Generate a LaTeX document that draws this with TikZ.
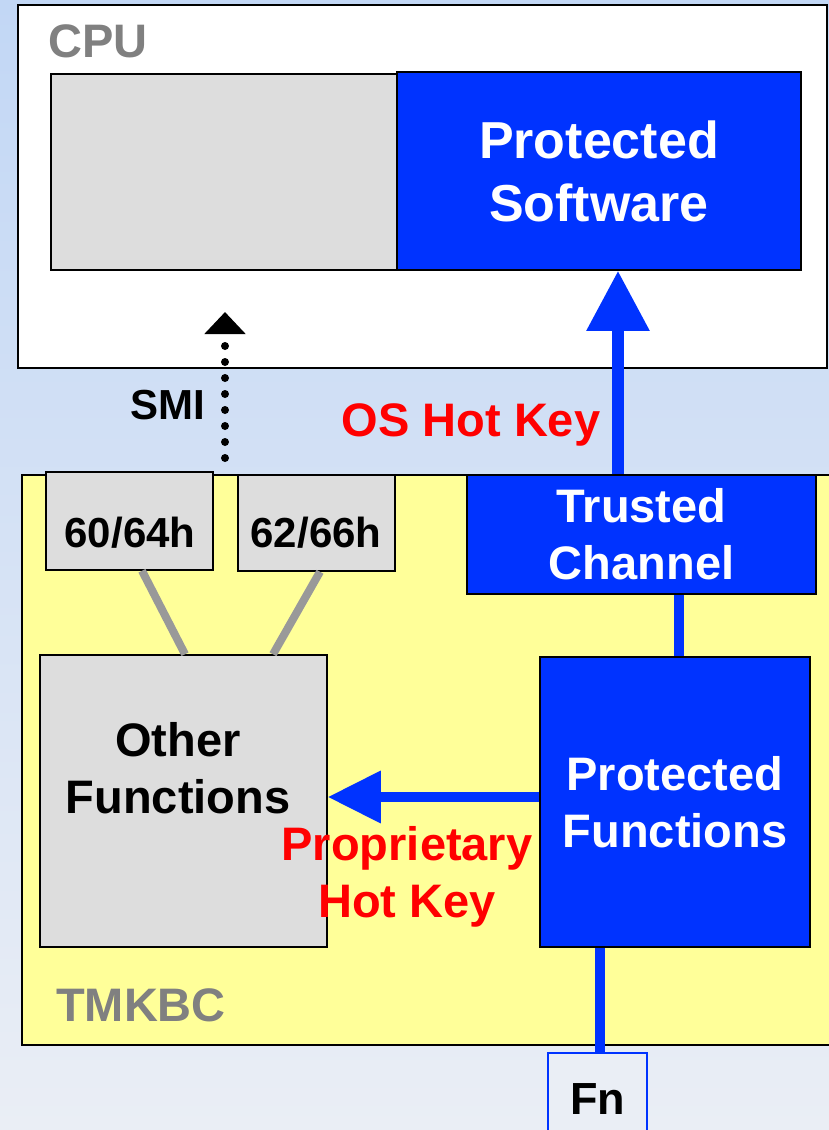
\documentclass[tikz,border=0pt]{standalone}
\usepackage{fontspec}
\setmainfont{Liberation Sans}
\usetikzlibrary{arrows.meta}

\definecolor{pblue}{HTML}{0033FF}
\definecolor{pyellow}{HTML}{FFFF99}
\definecolor{pgray}{HTML}{DDDDDD}
\definecolor{lblgray}{HTML}{808080}
\definecolor{linkgray}{HTML}{999999}
\definecolor{bgtop}{HTML}{C2D7F5}
\definecolor{bgbot}{HTML}{EAEEF5}

\tikzset{
  box/.style={draw=black, line width=1.5pt, inner sep=0pt},
  graybox/.style={box, fill=pgray},
  bluebox/.style={box, fill=pblue, text=white},
  txt/.style={font=\bfseries\fontsize{47}{57}\selectfont, align=center, inner sep=0pt},
  bigtxt/.style={font=\bfseries\fontsize{52}{63}\selectfont, align=center, inner sep=0pt},
  smalltxt/.style={font=\bfseries\fontsize{42}{50}\selectfont, align=center, inner sep=0pt},
  redtxt/.style={txt, text=red},
  graytxt/.style={txt, text=lblgray},
  glink/.style={draw=linkgray, line width=8pt},
  blink/.style={draw=pblue, line width=10pt},
}

\begin{document}
\begin{tikzpicture}[x=1pt, y=-1pt]
\useasboundingbox (0,0) rectangle (829,1130);
\shade[top color=bgtop, bottom color=bgbot] (0,0) rectangle (829,1130);

% CPU
\node[box, fill=white, minimum width=809pt, minimum height=363pt] (cpu) at (422.5,186.5) {};
\node[graytxt] (cputxt) at (98,41) {CPU};
\node[graybox, minimum width=347pt, minimum height=196pt] (cpugray) at (224.5,172) {};
\node[bluebox, bigtxt, minimum width=404pt, minimum height=198pt] (psw) at (599,171) {Protected\\Software};

% keyboard controller
\node[box, fill=pyellow, minimum width=818pt, minimum height=570pt] (kbc) at (431,760) {};
\node[graytxt] (kbctxt) at (141,1005) {TMKBC};

\node[graybox, minimum width=167pt, minimum height=98pt] (p6064) at (129.5,521) {};
\node[smalltxt] (p6064t) at (130,533) {60/64h};
\node[graybox, minimum width=157pt, minimum height=96pt] (p6266) at (316.5,523) {};
\node[smalltxt] (p6266t) at (316,533) {62/66h};

\node[bluebox, txt, minimum width=349pt, minimum height=119pt] (tc) at (641.5,534.5) {Trusted\\Channel};
\node[graybox, minimum width=287pt, minimum height=292pt] (of) at (183.5,801) {};
\node[txt] (oft) at (178,768) {Other\\Functions};
\node[bluebox, txt, minimum width=270pt, minimum height=290pt] (pf) at (675,802) {Protected\\Functions};

\node[draw=pblue, line width=1.5pt, fill=bgbot, minimum width=99pt, minimum height=92pt, font=\bfseries\fontsize{45}{54}\selectfont, inner sep=0pt] (fn) at (597.5,1099) {Fn};

% connectors
\draw[glink] ([xshift=12.5pt]p6064.south) -- ([xshift=1.5pt]of.north);
\draw[glink] ([xshift=3.5pt]p6266.south) -- ([xshift=89.5pt]of.north);
\draw[blink] ([xshift=37.5pt]tc.south) -- ([xshift=4pt]pf.north);
\draw[blink] ([xshift=-75pt]pf.south) -- ([xshift=2.5pt]fn.north);

\draw[draw=pblue, line width=12pt, -{Triangle[width=60pt, length=60pt]}]
  ([xshift=-23.5pt]tc.north) -- ([xshift=19pt]psw.south);
\draw[draw=pblue, line width=10pt, -{Triangle[width=50pt, length=53pt]}]
  ([yshift=5pt]pf.west) -- ([yshift=5pt]pf.west -| of.east);

\coordinate (smifrom) at (225,458);
\coordinate (smito) at (225,312);
\draw[line width=8pt, line cap=round, dash pattern=on 0pt off 16pt,
      -{Triangle[width=40pt, length=22pt, line cap=butt]}] (smifrom) -- (smito);

\node[smalltxt] (smi) at (168,405) {SMI};
\node[redtxt] (oshk) at (471,425) {OS Hot Key};
\node[redtxt] (phk) at (407,877) {Proprietary\\Hot Key};
\end{tikzpicture}
\end{document}
